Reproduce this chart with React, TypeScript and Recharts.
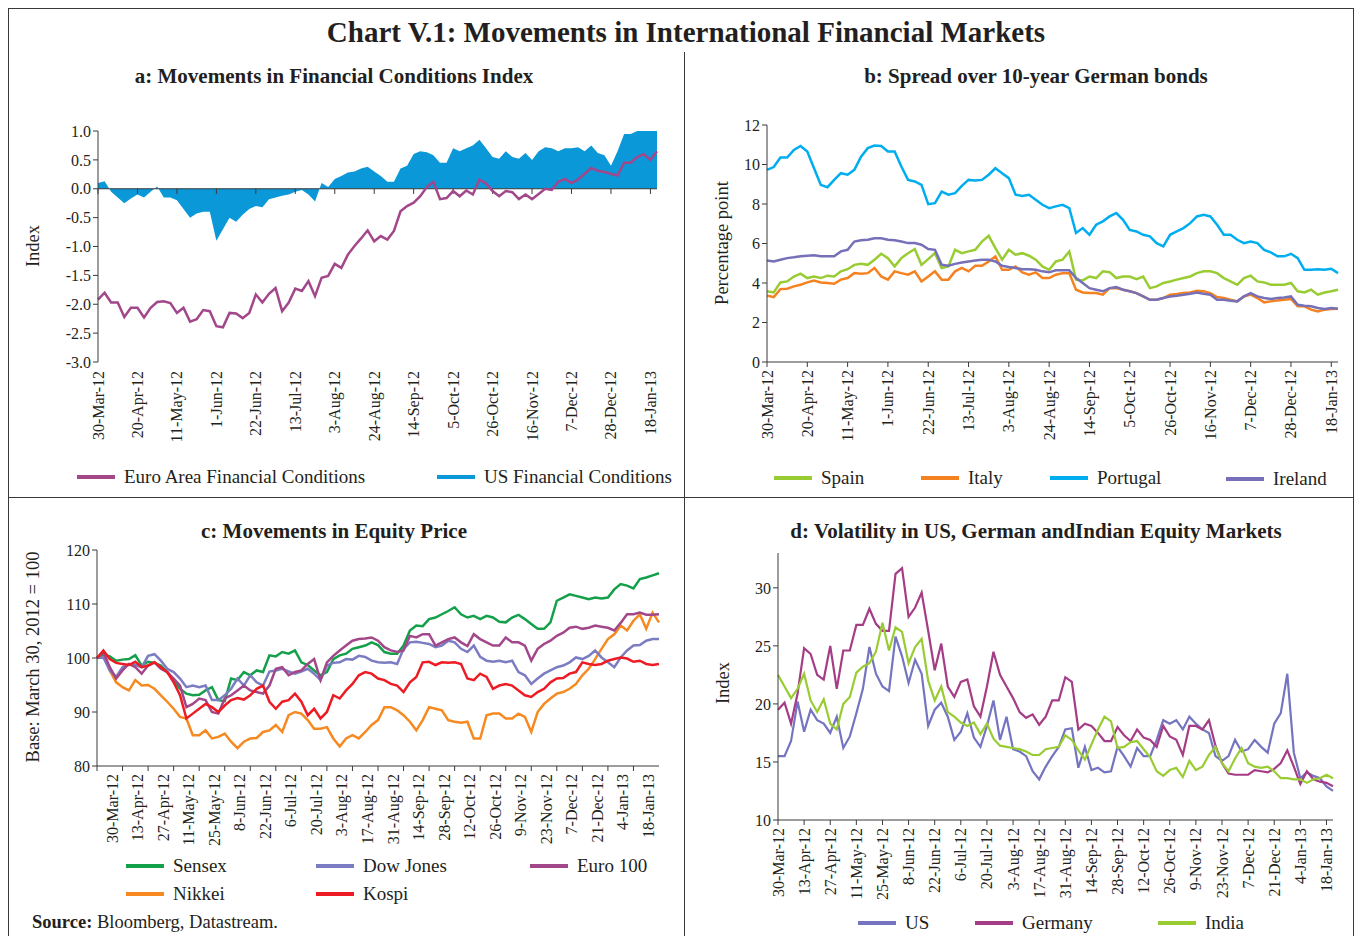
import React from "react";
import {
  Area,
  ComposedChart,
  Line,
  LineChart,
  ReferenceLine,
  XAxis,
  YAxis,
} from "recharts";

const FONT = '"Liberation Serif", "Times New Roman", serif';
const INK = "#231f20";
const AXIS = "#3a3a3a";

// tick labels (every 3 weeks for a/b, every 2 weeks for c/d)
const LABELS_3W = [
  "30-Mar-12", "20-Apr-12", "11-May-12", "1-Jun-12", "22-Jun-12", "13-Jul-12", "3-Aug-12", "24-Aug-12",
  "14-Sep-12", "5-Oct-12", "26-Oct-12", "16-Nov-12", "7-Dec-12", "28-Dec-12", "18-Jan-13",
];
const LABELS_2W = [
  "30-Mar-12", "13-Apr-12", "27-Apr-12", "11-May-12", "25-May-12", "8-Jun-12", "22-Jun-12", "6-Jul-12",
  "20-Jul-12", "3-Aug-12", "17-Aug-12", "31-Aug-12", "14-Sep-12", "28-Sep-12", "12-Oct-12", "26-Oct-12",
  "9-Nov-12", "23-Nov-12", "7-Dec-12", "21-Dec-12", "4-Jan-13", "18-Jan-13",
];

// a: financial conditions index (two readings per week)
const euroFci = [
  -1.92, -1.8, -1.97, -1.97, -2.22, -2.06, -2.06, -2.23, -2.06, -1.96,
  -1.95, -1.98, -2.15, -2.06, -2.3, -2.26, -2.1, -2.12, -2.38, -2.4,
  -2.15, -2.16, -2.24, -2.15, -1.83, -1.97, -1.82, -1.72, -2.12, -1.97,
  -1.73, -1.77, -1.6, -1.86, -1.54, -1.51, -1.3, -1.37, -1.14, -0.99,
  -0.86, -0.72, -0.91, -0.82, -0.88, -0.73, -0.39, -0.3, -0.24, -0.13,
  0.03, 0.12, -0.18, -0.16, -0.04, -0.13, -0.03, -0.1, 0.16, 0.09,
  -0.04, -0.13, -0.04, -0.06, -0.18, -0.1, -0.18, -0.09, 0.0, -0.02,
  0.12, 0.17, 0.1, 0.16, 0.26, 0.36, 0.31, 0.29, 0.26, 0.23,
  0.45, 0.45, 0.55, 0.6, 0.5, 0.65,
];
const usFci = [
  0.1, 0.13, -0.05, -0.15, -0.25, -0.17, -0.1, -0.15, -0.05, 0.04,
  -0.15, -0.15, -0.2, -0.35, -0.5, -0.43, -0.4, -0.4, -0.9, -0.7,
  -0.5, -0.57, -0.45, -0.35, -0.3, -0.32, -0.18, -0.15, -0.12, -0.1,
  -0.05, -0.02, -0.1, -0.22, 0.1, 0.03, 0.17, 0.22, 0.28, 0.3,
  0.35, 0.38, 0.3, 0.22, 0.12, 0.12, 0.35, 0.4, 0.6, 0.65,
  0.63, 0.58, 0.45, 0.45, 0.7, 0.65, 0.7, 0.75, 0.85, 0.7,
  0.55, 0.52, 0.65, 0.55, 0.52, 0.62, 0.5, 0.65, 0.72, 0.7,
  0.65, 0.7, 0.7, 0.72, 0.65, 0.75, 0.62, 0.58, 0.4, 0.65,
  0.95, 0.95, 1.0, 1.0, 1.0, 1.0,
];

// b: spread over 10-year German bonds
const spain = [
  3.58, 3.52, 4.03, 4.08, 4.33, 4.47, 4.25, 4.33, 4.25, 4.37,
  4.33, 4.59, 4.7, 4.92, 4.97, 4.92, 5.18, 5.48, 5.26, 4.84,
  5.26, 5.51, 5.72, 4.92, 5.21, 5.51, 4.76, 4.84, 5.68, 5.51,
  5.6, 5.68, 6.1, 6.39, 5.77, 5.18, 5.68, 5.43, 5.51, 5.38,
  5.18, 4.84, 4.67, 5.09, 5.18, 5.6, 4.17, 4.13, 4.33, 4.25,
  4.59, 4.55, 4.25, 4.33, 4.33, 4.2, 4.33, 3.74, 3.83, 4.0,
  4.08, 4.17, 4.25, 4.33, 4.5, 4.59, 4.59, 4.5, 4.25, 4.08,
  3.91, 4.25, 4.37, 4.08, 4.03, 3.91, 3.91, 3.91, 4.0, 3.58,
  3.52, 3.66, 3.41, 3.52, 3.58, 3.66,
];
const italy = [
  3.36, 3.29, 3.69, 3.71, 3.83, 3.91, 4.03, 4.13, 4.03, 4.0,
  3.96, 4.17, 4.25, 4.5, 4.47, 4.5, 4.76, 4.33, 4.17, 4.59,
  4.5, 4.42, 4.59, 4.08, 4.33, 4.59, 4.17, 4.17, 4.59, 4.76,
  4.59, 4.87, 4.87, 5.09, 5.35, 4.67, 4.67, 4.84, 4.54, 4.42,
  4.54, 4.25, 4.25, 4.42, 4.5, 4.5, 3.66, 3.52, 3.49, 3.49,
  3.41, 3.74, 3.74, 3.66, 3.58, 3.49, 3.32, 3.15, 3.15, 3.24,
  3.41, 3.44, 3.49, 3.52, 3.61, 3.58, 3.49, 3.29, 3.24, 3.15,
  3.07, 3.32, 3.41, 3.24, 3.02, 3.07, 3.12, 3.15, 3.19, 2.82,
  2.82, 2.65, 2.56, 2.65, 2.68, 2.7,
];
const portugal = [
  9.73, 9.87, 10.35, 10.35, 10.74, 10.94, 10.66, 9.81, 8.97, 8.85,
  9.22, 9.56, 9.48, 9.73, 10.4, 10.83, 10.96, 10.94, 10.66, 10.66,
  9.9, 9.22, 9.14, 8.97, 7.99, 8.04, 8.63, 8.47, 8.55, 8.92,
  9.22, 9.19, 9.22, 9.48, 9.81, 9.56, 9.31, 8.47, 8.41, 8.47,
  8.21, 7.96, 7.79, 7.88, 7.96, 7.79, 6.53, 6.78, 6.44, 6.95,
  7.12, 7.37, 7.54, 7.2, 6.69, 6.61, 6.44, 6.36, 6.02, 5.85,
  6.44, 6.61, 6.78, 7.03, 7.37, 7.45, 7.37, 6.95, 6.44, 6.44,
  6.19, 6.02, 6.1, 6.02, 5.68, 5.55, 5.35, 5.35, 5.48, 5.26,
  4.67, 4.67, 4.7, 4.67, 4.72, 4.5,
];
const ireland = [
  5.14, 5.09, 5.18, 5.26, 5.3, 5.35, 5.38, 5.4, 5.35, 5.35,
  5.35, 5.6, 5.68, 6.1, 6.16, 6.19, 6.27, 6.27, 6.19, 6.16,
  6.1, 6.02, 6.02, 5.94, 5.72, 5.68, 4.92, 4.87, 4.97, 5.04,
  5.09, 5.14, 5.18, 5.18, 5.09, 4.87, 4.81, 4.76, 4.7, 4.7,
  4.67, 4.59, 4.54, 4.64, 4.64, 4.64, 4.25, 4.0, 3.74, 3.66,
  3.58, 3.74, 3.79, 3.66, 3.58, 3.49, 3.32, 3.15, 3.15, 3.24,
  3.32, 3.36, 3.41, 3.46, 3.52, 3.46, 3.41, 3.15, 3.15, 3.1,
  3.07, 3.32, 3.49, 3.32, 3.24, 3.19, 3.24, 3.27, 3.32, 2.9,
  2.85, 2.82, 2.73, 2.68, 2.73, 2.7,
];

// c: equity prices, base March 30, 2012 = 100
const sensex = [
  100, 100.7, 100.3, 99.5, 99.7, 99.8, 100.5, 98.6, 99.3, 99.1,
  98.6, 97.4, 95.9, 94.3, 93.4, 93.1, 93.2, 94.0, 94.6, 92.2,
  92.0, 96.2, 95.9, 97.4, 96.8, 97.7, 97.4, 100.5, 100.3, 101.1,
  100.8, 101.4, 99.2, 98.7, 97.7, 96.8, 97.4, 99.8, 100.5, 100.8,
  101.7, 102.0, 102.3, 102.9, 102.4, 101.1, 100.8, 100.8, 102.3, 105.1,
  106.0, 105.9, 107.2, 107.5, 108.1, 108.7, 109.4, 108.1, 107.5, 107.8,
  107.2, 107.8, 107.5, 106.7, 106.6, 107.5, 108.0, 107.2, 106.3, 105.4,
  105.4, 106.6, 110.6, 111.2, 111.8, 111.5, 111.2, 110.9, 111.2, 111.0,
  111.2, 112.7, 113.7, 113.4, 112.9, 114.6, 114.9, 115.3, 115.7,
];
const dowJones = [
  100, 100.1, 97.7, 96.5, 98.3, 98.9, 98.7, 98.3, 100.4, 100.7,
  99.5, 98.0, 97.4, 96.2, 94.6, 94.9, 94.6, 94.9, 92.2, 92.2,
  93.1, 94.3, 96.2, 94.9, 96.8, 95.5, 94.9, 97.5, 97.7, 98.0,
  97.5, 97.1, 97.5, 98.0, 97.1, 95.9, 98.6, 99.1, 99.2, 99.8,
  99.7, 100.4, 100.2, 99.5, 99.2, 99.1, 99.2, 98.9, 101.7, 102.9,
  103.0, 102.8, 102.6, 102.0, 102.3, 103.2, 102.9, 101.7, 101.1, 102.3,
  100.2, 99.5, 99.3, 99.5, 99.2, 99.5, 97.4, 96.8, 95.2, 96.2,
  97.1, 97.7, 98.3, 98.6, 99.2, 100.1, 99.8, 100.4, 101.4, 100.1,
  99.2, 98.3, 100.1, 101.4, 102.3, 102.4, 103.2, 103.5, 103.5,
];
const euro100 = [
  100, 101.1, 98.3, 96.2, 97.7, 98.9, 98.3, 97.1, 98.6, 99.2,
  98.0, 97.4, 96.2, 94.9, 90.9, 91.5, 92.5, 92.2, 90.0, 89.7,
  92.5, 93.1, 94.0, 94.9, 94.0, 93.7, 93.4, 94.9, 98.0, 98.3,
  96.8, 97.4, 97.7, 98.9, 99.8, 95.9, 99.2, 100.4, 101.4, 102.3,
  103.2, 103.5, 103.6, 103.8, 103.2, 102.0, 101.4, 101.1, 101.4, 104.1,
  103.8, 104.4, 104.4, 102.3, 102.9, 103.5, 103.8, 102.9, 102.2, 104.4,
  103.5, 102.9, 102.3, 102.3, 103.8, 102.9, 102.9, 102.3, 99.5, 101.7,
  102.6, 103.2, 104.1, 104.7, 105.6, 105.8, 105.4, 105.6, 106.0, 105.8,
  105.6, 105.1, 106.5, 108.1, 108.1, 108.4, 108.0, 108.0, 108.1,
];
const nikkei = [
  100, 100.7, 97.7, 95.5, 94.6, 94.0, 95.9, 94.9, 95.0, 94.3,
  93.1, 91.9, 90.6, 89.1, 88.8, 85.7, 85.7, 86.6, 85.1, 85.4,
  86.0, 84.5, 83.3, 84.5, 85.1, 85.2, 86.3, 86.6, 87.6, 86.3,
  89.4, 90.0, 89.7, 88.5, 86.9, 86.9, 87.2, 85.1, 83.6, 85.1,
  85.7, 85.1, 86.3, 87.6, 88.5, 90.9, 90.9, 90.3, 89.4, 88.2,
  86.6, 88.5, 90.9, 90.6, 90.3, 88.5, 88.2, 88.0, 88.2, 85.1,
  85.1, 89.4, 89.7, 89.7, 88.8, 88.8, 89.7, 89.1, 86.3, 90.0,
  91.5, 92.5, 93.4, 93.7, 94.3, 95.2, 96.8, 98.0, 99.8, 101.7,
  103.5, 104.4, 106.0, 105.1, 106.9, 108.1, 105.4, 108.4, 106.6,
];
const kospi = [
  100, 101.4, 99.8, 99.1, 98.9, 98.7, 99.3, 98.3, 98.6, 99.2,
  98.3, 97.4, 95.5, 93.1, 88.8, 89.7, 90.6, 91.5, 90.9, 90.0,
  91.2, 92.2, 92.6, 92.3, 93.1, 94.3, 94.9, 91.9, 90.6, 91.9,
  92.2, 93.4, 91.9, 89.4, 90.6, 88.8, 90.0, 93.1, 92.5, 94.0,
  95.2, 96.8, 97.4, 97.1, 96.2, 95.9, 95.2, 94.9, 93.7, 95.5,
  96.5, 99.2, 99.3, 98.7, 99.2, 99.1, 99.2, 98.9, 96.2, 95.9,
  97.1, 96.5, 94.3, 94.9, 95.2, 94.9, 94.0, 93.1, 92.8, 93.7,
  94.3, 95.5, 96.2, 96.3, 97.1, 97.4, 99.2, 98.9, 98.7, 98.9,
  99.5, 99.8, 100.1, 99.9, 99.3, 99.5, 98.9, 98.7, 98.9,
];

// d: volatility indices
const volUs = [
  15.5, 15.5, 16.8, 20.2, 17.6, 19.5, 18.6, 18.3, 17.5, 18.9,
  16.2, 17.2, 19.2, 21.3, 24.9, 22.6, 21.5, 21.1, 25.8, 24.1,
  21.8, 23.8, 22.6, 18.1, 19.5, 20.1, 18.9, 16.9, 17.6, 19.2,
  17.1, 16.3, 18.1, 20.3, 16.9, 18.9, 16.1, 15.9, 15.5, 14.2,
  13.5, 14.6, 15.5, 16.3, 17.8, 17.9, 14.5, 16.3, 14.3, 14.5,
  14.1, 14.2, 16.3, 15.5, 14.6, 16.2, 15.5, 15.5, 16.9, 18.6,
  18.3, 18.6, 17.8, 18.9, 18.3, 17.8, 17.5, 15.5, 15.1, 15.5,
  16.9, 15.9, 16.1, 16.9, 16.3, 15.8, 18.3, 19.2, 22.6, 15.8,
  13.6, 14.1, 13.8, 13.6, 12.9, 12.5,
];
const volGermany = [
  19.5, 20.1, 18.3, 20.9, 24.8, 24.3, 22.5, 22.1, 25.0, 21.3,
  24.6, 24.6, 26.8, 26.8, 28.2, 26.9, 26.3, 26.3, 31.2, 31.7,
  27.5, 28.3, 29.6, 26.3, 22.9, 25.2, 21.5, 20.6, 21.9, 22.1,
  19.8, 18.9, 21.5, 24.5, 22.5, 21.5, 20.5, 19.3, 18.8, 19.1,
  18.2, 18.9, 20.3, 20.3, 22.3, 21.9, 17.8, 18.3, 18.1, 17.5,
  16.8, 16.8, 18.0, 17.3, 16.8, 17.8, 17.1, 16.9, 16.3, 18.1,
  17.2, 16.9, 15.6, 18.1, 18.1, 17.8, 18.6, 16.4, 14.9, 14.0,
  13.9, 13.9, 13.9, 14.3, 14.2, 14.1, 14.4, 14.9, 16.0, 14.6,
  13.1, 14.2, 13.5, 13.3, 13.2, 12.9,
];
const volIndia = [
  22.5, 21.5, 20.5, 21.3, 22.6, 20.3, 19.3, 20.4, 18.3, 17.8,
  20.0, 20.6, 22.7, 23.2, 23.5, 24.5, 27.0, 24.6, 26.6, 26.2,
  23.5, 24.9, 25.6, 22.0, 20.3, 21.5, 19.3, 18.9, 18.4, 18.1,
  18.4, 17.4, 18.3, 17.0, 16.4, 16.3, 16.2, 16.1, 15.9, 15.6,
  15.6, 16.1, 16.2, 16.3, 17.3, 16.9, 16.0, 15.2, 16.5, 17.8,
  18.9, 18.5, 16.2, 16.3, 16.7, 16.8, 16.1, 15.4, 14.2, 13.8,
  14.3, 14.5, 13.7, 15.1, 14.3, 14.6, 15.6, 16.3, 14.9, 14.2,
  15.3, 16.2, 14.9, 14.6, 14.5, 14.6, 14.2, 13.6, 13.6, 13.5,
  13.5, 13.2, 13.5, 13.6, 13.9, 13.6,
];

const rowsA = euroFci.map((v, i) => ({ i, euro: v, us: usFci[i] }));
const rowsB = spain.map((v, i) => ({ i, spain: v, italy: italy[i], portugal: portugal[i], ireland: ireland[i] }));
const rowsC = sensex.map((v, i) => ({
  i, sensex: v, dow: dowJones[i], euro: euro100[i], nikkei: nikkei[i], kospi: kospi[i],
}));
const rowsD = volUs.map((v, i) => ({ i, us: v, germany: volGermany[i], india: volIndia[i] }));

const ticks3w = LABELS_3W.map((_, k) => k * 6);
const ticks2w = LABELS_2W.map((_, k) => k * 4);

function dateTick(labels: string[], step: number, dx: number) {
  return (props: any) => {
    const { x, y, payload } = props;
    const label = labels[Math.round(payload.value / step)];
    return (
      <text
        transform={`translate(${x + dx},${y + 1}) rotate(-90)`}
        textAnchor="end"
        dominantBaseline="central"
        fontSize={16}
        fontFamily={FONT}
        fill={INK}
      >
        {label}
      </text>
    );
  };
}

const yTick = { fontSize: 16, fill: INK, fontFamily: FONT };

function LegendItem({ x, y, color, label }: { x: number; y: number; color: string; label: string }) {
  return (
    <div style={{ position: "absolute", left: x, top: y - 12, height: 24, display: "flex", alignItems: "center", whiteSpace: "nowrap" }}>
      <span style={{ display: "inline-block", width: 38, height: 4, background: color, marginRight: 9 }} />
      <span style={{ fontSize: 19, color: INK }}>{label}</span>
    </div>
  );
}

function Caption({ x, y, text, size = 21, bold = true }: { x: number; y: number; text: string; size?: number; bold?: boolean }) {
  return (
    <div
      style={{
        position: "absolute", left: x, top: y, transform: "translate(-50%, -50%)", whiteSpace: "nowrap",
        fontSize: size, fontWeight: bold ? 700 : 400, color: INK,
      }}
    >
      {text}
    </div>
  );
}

function AxisTitle({ x, y, text }: { x: number; y: number; text: string }) {
  return (
    <div
      style={{
        position: "absolute", left: x, top: y, transform: "translate(-50%, -50%) rotate(-90deg)",
        whiteSpace: "nowrap", fontSize: 18.5, color: INK,
      }}
    >
      {text}
    </div>
  );
}

const C = {
  euro: "#a3478b",
  us: "#0a98d8",
  spain: "#99cc33",
  italy: "#f58220",
  portugal: "#00aeef",
  ireland: "#7570b8",
  sensex: "#14a04a",
  dow: "#7b7cc2",
  euro100: "#a3478b",
  nikkei: "#f6891f",
  kospi: "#ed1c24",
  vUs: "#7474c0",
  vDe: "#a53c86",
  vIn: "#99cc33",
};

export default function App() {
  return (
    <div style={{ position: "absolute", left: 0, top: 0, width: 1359, height: 936, background: "#fff", fontFamily: FONT, overflow: "hidden" }}>
      {/* frame */}
      <div style={{ position: "absolute", left: 8, top: 8, width: 1344, height: 940, border: `1.5px solid ${AXIS}` }} />
      <div style={{ position: "absolute", left: 8, top: 497, width: 1345, height: 0, borderTop: `1.5px solid ${AXIS}` }} />
      <div style={{ position: "absolute", left: 684, top: 52, width: 0, height: 890, borderLeft: `1.5px solid ${AXIS}` }} />

      <Caption x={686} y={32} text="Chart V.1: Movements in International Financial Markets" size={29} />
      <Caption x={334} y={76} text="a: Movements in Financial Conditions Index" />
      <Caption x={1036} y={76} text="b: Spread over 10-year German bonds" />
      <Caption x={334} y={531} text="c: Movements in Equity Price" />
      <Caption x={1036} y={531} text="d: Volatility in US, German andIndian Equity Markets" />

      <AxisTitle x={33} y={246} text="Index" />
      <AxisTitle x={722} y={243} text="Percentage point" />
      <AxisTitle x={33} y={657} text="Base: March 30, 2012 = 100" />
      <AxisTitle x={723} y={683} text="Index" />

      {/* a */}
      <div style={{ position: "absolute", left: 0, top: 100 }}>
        <ComposedChart width={680} height={370} data={rowsA} margin={{ top: 31, right: 23, bottom: 8, left: 0 }}>
          <XAxis dataKey="i" type="number" domain={[0, 85]} ticks={ticks3w} interval={0} height={100}
            axisLine={false} tickLine={false} tick={dateTick(LABELS_3W, 6, 0)} />
          <YAxis width={98} domain={[-3, 1]} ticks={[1, 0.5, 0, -0.5, -1, -1.5, -2, -2.5, -3]} interval={0}
            tickFormatter={(v: number) => v.toFixed(1)} tick={yTick} stroke={AXIS} tickSize={5} />
          <Area type="linear" dataKey="us" baseValue={0} stroke="none" fill={C.us} fillOpacity={1} isAnimationActive={false} />
          <ReferenceLine y={0} stroke={AXIS} strokeWidth={1.2} />
          {ticks3w.map((t) => (
            <ReferenceLine key={t} segment={[{ x: t, y: 0 }, { x: t, y: -0.09 }]} stroke={AXIS} />
          ))}
          <Line type="linear" dataKey="euro" stroke={C.euro} strokeWidth={2.5} dot={false} isAnimationActive={false} />
        </ComposedChart>
      </div>

      {/* b */}
      <div style={{ position: "absolute", left: 690, top: 100 }}>
        <LineChart width={660} height={370} data={rowsB} margin={{ top: 25, right: 12, bottom: 8, left: 0 }}>
          <XAxis dataKey="i" type="number" domain={[0, 85]} ticks={ticks3w} interval={0} height={100}
            stroke={AXIS} tickSize={5} tick={dateTick(LABELS_3W, 6, 0)} />
          <YAxis width={77} domain={[0, 12]} ticks={[0, 2, 4, 6, 8, 10, 12]} interval={0} tick={yTick} stroke={AXIS} tickSize={5} />
          <Line type="linear" dataKey="portugal" stroke={C.portugal} strokeWidth={2.5} dot={false} isAnimationActive={false} />
          <Line type="linear" dataKey="spain" stroke={C.spain} strokeWidth={2.5} dot={false} isAnimationActive={false} />
          <Line type="linear" dataKey="italy" stroke={C.italy} strokeWidth={2.5} dot={false} isAnimationActive={false} />
          <Line type="linear" dataKey="ireland" stroke={C.ireland} strokeWidth={2.5} dot={false} isAnimationActive={false} />
        </LineChart>
      </div>

      {/* c */}
      <div style={{ position: "absolute", left: 0, top: 530 }}>
        <LineChart width={680} height={330} data={rowsC} margin={{ top: 20, right: 21, bottom: 4, left: 0 }}>
          <XAxis dataKey="i" type="number" domain={[0, 88]} ticks={ticks2w} interval={0} height={90}
            stroke={AXIS} tickSize={5} tick={dateTick(LABELS_2W, 4, 15)} />
          <YAxis width={97} domain={[80, 120]} ticks={[80, 90, 100, 110, 120]} interval={0} tick={yTick} stroke={AXIS} tickSize={5} />
          <Line type="linear" dataKey="nikkei" stroke={C.nikkei} strokeWidth={2.5} dot={false} isAnimationActive={false} />
          <Line type="linear" dataKey="sensex" stroke={C.sensex} strokeWidth={2.5} dot={false} isAnimationActive={false} />
          <Line type="linear" dataKey="dow" stroke={C.dow} strokeWidth={2.5} dot={false} isAnimationActive={false} />
          <Line type="linear" dataKey="euro" stroke={C.euro100} strokeWidth={2.5} dot={false} isAnimationActive={false} />
          <Line type="linear" dataKey="kospi" stroke={C.kospi} strokeWidth={2.5} dot={false} isAnimationActive={false} />
        </LineChart>
      </div>

      {/* d */}
      <div style={{ position: "absolute", left: 690, top: 530 }}>
        <LineChart width={660} height={380} data={rowsD} margin={{ top: 23, right: 17, bottom: 4, left: 0 }}>
          <XAxis dataKey="i" type="number" domain={[0, 85]} ticks={ticks2w} interval={0} height={86}
            stroke={AXIS} tickSize={5} tick={dateTick(LABELS_2W, 4, 0)} />
          <YAxis width={88} domain={[10, 33]} ticks={[10, 15, 20, 25, 30]} interval={0} tick={yTick} stroke={AXIS} tickSize={5} />
          <Line type="linear" dataKey="us" stroke={C.vUs} strokeWidth={2.2} dot={false} isAnimationActive={false} />
          <Line type="linear" dataKey="germany" stroke={C.vDe} strokeWidth={2.2} dot={false} isAnimationActive={false} />
          <Line type="linear" dataKey="india" stroke={C.vIn} strokeWidth={2.2} dot={false} isAnimationActive={false} />
        </LineChart>
      </div>

      {/* legends */}
      <LegendItem x={77} y={477} color={C.euro} label="Euro Area Financial Conditions" />
      <LegendItem x={437} y={477} color={C.us} label="US Financial Conditions" />

      <LegendItem x={774} y={478} color={C.spain} label="Spain" />
      <LegendItem x={921} y={478} color={C.italy} label="Italy" />
      <LegendItem x={1050} y={478} color={C.portugal} label="Portugal" />
      <LegendItem x={1226} y={479} color={C.ireland} label="Ireland" />

      <LegendItem x={126} y={866} color={C.sensex} label="Sensex" />
      <LegendItem x={316} y={866} color={C.dow} label="Dow Jones" />
      <LegendItem x={530} y={866} color={C.euro100} label="Euro 100" />
      <LegendItem x={126} y={894} color={C.nikkei} label="Nikkei" />
      <LegendItem x={316} y={894} color={C.kospi} label="Kospi" />

      <LegendItem x={858} y={923} color={C.vUs} label="US" />
      <LegendItem x={975} y={923} color={C.vDe} label="Germany" />
      <LegendItem x={1158} y={923} color={C.vIn} label="India" />

      <div style={{ position: "absolute", left: 32, top: 912, fontSize: 18.5, color: INK, whiteSpace: "nowrap" }}>
        <b>Source:</b> Bloomberg, Datastream.
      </div>
    </div>
  );
}
